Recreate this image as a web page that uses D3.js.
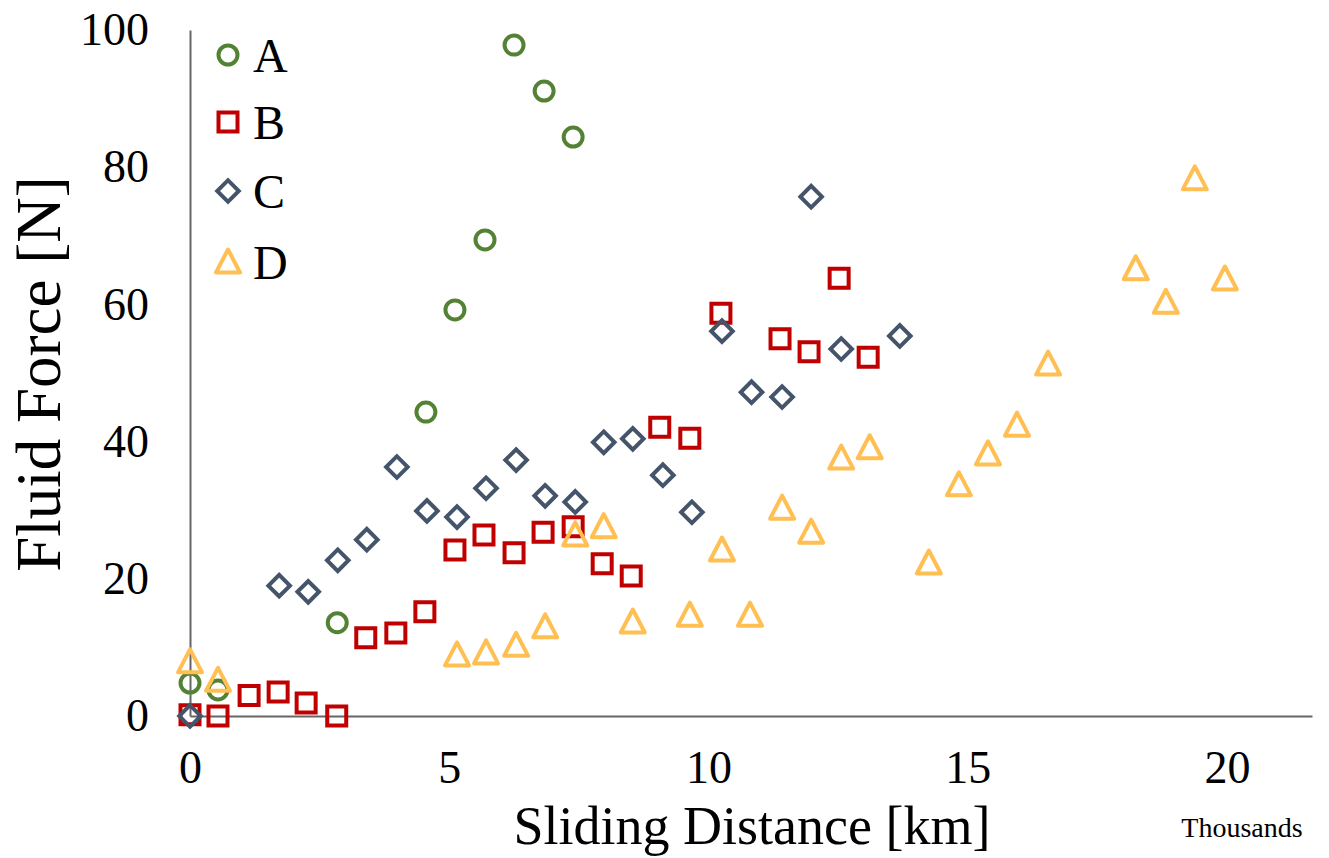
<!DOCTYPE html>
<html>
<head>
<meta charset="utf-8">
<script src="https://cdn.jsdelivr.net/npm/d3@7"></script>
<style>
  body { margin: 0; background: #fff; }
  svg { display: block; font-family: "Liberation Serif", "Times New Roman", serif; }
</style>
</head>
<body>
<div id="chart"></div>
<script>

// data (x in thousands of km)
const A_X = [0, 0.54, 2.84, 4.55, 5.11, 5.69, 6.25, 6.83, 7.39];
const A_Y = [4.8, 3.8, 13.6, 44.3, 59.2, 69.4, 97.8, 91.1, 84.4];

const B_X = [0, 0.54, 1.14, 1.70, 2.24, 2.83, 3.39, 3.97, 4.53, 5.11, 5.67, 6.25, 6.81, 7.39, 7.95, 8.51, 9.06, 9.64, 10.24, 11.38, 11.94, 12.52, 13.08];
const B_Y = [0.2, 0, 3.0, 3.5, 1.9, 0, 11.4, 12.1, 15.2, 24.2, 26.4, 23.8, 26.8, 27.6, 22.2, 20.4, 42.1, 40.5, 58.7, 55.0, 53.1, 63.8, 52.3];

const C_X = [0, 1.72, 2.28, 2.85, 3.41, 3.99, 4.57, 5.15, 5.71, 6.29, 6.85, 7.43, 7.98, 8.54, 9.12, 9.68, 10.26, 10.83, 11.42, 11.98, 12.56, 13.69];
const C_Y = [0, 19.0, 18.1, 22.7, 25.7, 36.3, 29.9, 29.0, 33.2, 37.3, 32.1, 31.2, 39.9, 40.4, 35.1, 29.7, 56.1, 47.2, 46.5, 75.7, 53.5, 55.4];

const D_X = [0, 0.54, 5.15, 5.71, 6.29, 6.85, 7.43, 7.98, 8.54, 9.64, 10.26, 10.80, 11.42, 11.98, 12.56, 13.11, 14.25, 14.83, 15.39, 15.95, 16.55, 18.24, 18.82, 19.38, 19.96];
const D_Y = [7.9, 5.2, 8.9, 9.2, 10.3, 13.0, 26.4, 27.6, 13.7, 14.7, 24.2, 14.7, 30.3, 26.8, 37.6, 39.1, 22.3, 33.7, 38.2, 42.4, 51.3, 65.2, 60.3, 78.3, 63.7];

const SERIES_NAMES = ["A", "B", "C", "D"];
const X_TICKS = [0, 5, 10, 15, 20];
const Y_TICKS = [0, 20, 40, 60, 80, 100];

// frame
const FRAME_WIDTH = 1329;
const FRAME_HEIGHT = 858;
const PLOT = {left: 190, right: 1312, top: 30, bottom: 716};

const COLORS = ["#548235", "#C00000", "#44546A", "#FFBF52"];

const FRAME = d3.select("#chart")
                .append("svg")
                  .attr("width", FRAME_WIDTH)
                  .attr("height", FRAME_HEIGHT);

const X_SCALE = d3.scaleLinear()
                  .domain([0, 21.64])
                  .range([PLOT.left, PLOT.right]);

const Y_SCALE = d3.scaleLinear()
                  .domain([0, 100])
                  .range([PLOT.bottom, PLOT.top]);

// marker shapes
const SHAPES = [
  d3.symbol().type(d3.symbolCircle).size(283)(),
  d3.symbol().type(d3.symbolSquare).size(361)(),
  d3.symbol().type(d3.symbolSquare).size(232)(),
  "M0,-12.5L12,10.5L-12,10.5Z"
];
const ROTATE = [0, 0, 45, 0];

// axes
const xAxis = FRAME.append("g")
    .attr("transform", "translate(0," + PLOT.bottom + ")")
    .call(d3.axisBottom(X_SCALE).tickValues(X_TICKS).tickSize(0).tickPadding(34));

const yAxis = FRAME.append("g")
    .attr("transform", "translate(" + PLOT.left + ",0)")
    .call(d3.axisLeft(Y_SCALE).tickValues(Y_TICKS).tickSize(0).tickPadding(41));

[xAxis, yAxis].forEach((ax) => {
  ax.select(".domain").attr("stroke", "#666").attr("stroke-width", 2);
  ax.selectAll("text")
    .attr("font-family", "Liberation Serif, Times New Roman, serif")
    .attr("font-size", "46px")
    .attr("fill", "#000");
});

// points
const SERIES = [[A_X, A_Y], [B_X, B_Y], [C_X, C_Y], [D_X, D_Y]];

SERIES.forEach((s, i) => {
  const pts = s[0].map((x, j) => ({x: x, y: s[1][j]}));
  FRAME.append("g")
    .selectAll("path")
    .data(pts)
    .enter()
    .append("path")
      .attr("d", SHAPES[i])
      .attr("transform", (d) => "translate(" + X_SCALE(d.x) + "," + Y_SCALE(d.y) + ") rotate(" + ROTATE[i] + ")")
      .attr("fill", "none")
      .attr("stroke", COLORS[i])
      .attr("stroke-width", 4)
      .attr("stroke-linejoin", i === 3 ? "round" : "miter");
});

// legend
const LEGEND_Y = [55, 122, 191, 262];
const legend = FRAME.append("g");
SERIES_NAMES.forEach((name, i) => {
  legend.append("path")
    .attr("d", SHAPES[i])
    .attr("transform", "translate(228," + LEGEND_Y[i] + ") rotate(" + ROTATE[i] + ")")
    .attr("fill", "none")
    .attr("stroke", COLORS[i])
    .attr("stroke-width", 4)
    .attr("stroke-linejoin", i === 3 ? "round" : "miter");
  legend.append("text")
    .attr("x", 253)
    .attr("y", LEGEND_Y[i] + 17)
    .attr("font-size", "48px")
    .text(name);
});

// axis titles
FRAME.append("text")
  .attr("x", 752)
  .attr("y", 844)
  .attr("text-anchor", "middle")
  .attr("font-size", "54px")
  .text("Sliding Distance [km]");

FRAME.append("text")
  .attr("transform", "translate(60,374) rotate(-90)")
  .attr("text-anchor", "middle")
  .attr("font-size", "63px")
  .text("Fluid Force [N]");

FRAME.append("text")
  .attr("x", 1242)
  .attr("y", 837)
  .attr("text-anchor", "middle")
  .attr("font-size", "28px")
  .text("Thousands");

</script>
</body>
</html>
